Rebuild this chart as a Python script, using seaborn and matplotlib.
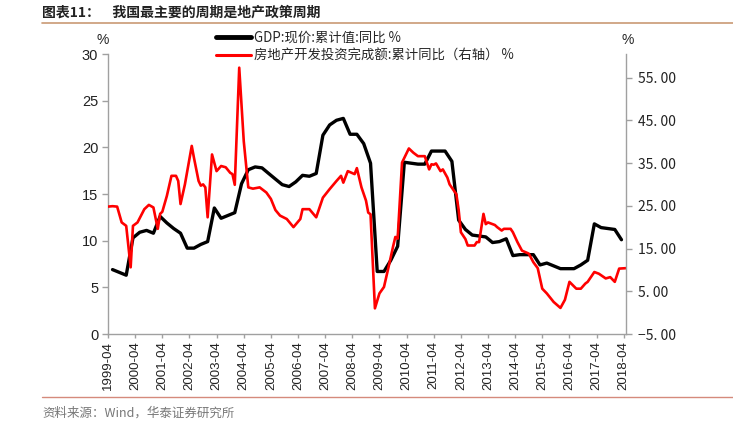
import numpy as np
import pandas as pd
import matplotlib
matplotlib.use('Agg')
import matplotlib.pyplot as plt
from matplotlib.lines import Line2D
import seaborn as sns

sns.set_style('white')
plt.rcParams['font.family'] = ['Noto Sans CJK SC', 'DejaVu Sans']
plt.rcParams['axes.unicode_minus'] = False

# GDP 现价 累计同比（季度，左轴）
gdp_quarters = ['1999-06', '1999-09', '1999-12',
                '2000-03', '2000-06', '2000-09', '2000-12',
                '2001-03', '2001-06', '2001-09', '2001-12',
                '2002-03', '2002-06', '2002-09', '2002-12',
                '2003-03', '2003-06', '2003-09', '2003-12',
                '2004-03', '2004-06', '2004-09', '2004-12',
                '2005-03', '2005-06', '2005-09', '2005-12',
                '2006-03', '2006-06', '2006-09', '2006-12',
                '2007-03', '2007-06', '2007-09', '2007-12',
                '2008-03', '2008-06', '2008-09', '2008-12',
                '2009-03', '2009-06', '2009-09', '2009-12',
                '2010-03', '2010-06', '2010-09', '2010-12',
                '2011-03', '2011-06', '2011-09', '2011-12',
                '2012-03', '2012-06', '2012-09', '2012-12',
                '2013-03', '2013-06', '2013-09', '2013-12',
                '2014-03', '2014-06', '2014-09', '2014-12',
                '2015-03', '2015-06', '2015-09', '2015-12',
                '2016-03', '2016-06', '2016-09', '2016-12',
                '2017-03', '2017-06', '2017-09', '2017-12',
                '2018-03']
gdp_yoy = [6.9, 6.6, 6.3,
           10.3, 10.9, 11.1, 10.8,
           12.6, 11.9, 11.3, 10.8,
           9.2, 9.2, 9.6, 9.9,
           13.5, 12.4, 12.7, 13.0,
           16.1, 17.6, 17.9, 17.8,
           17.2, 16.6, 16.0, 15.8,
           16.3, 17.0, 16.9, 17.2,
           21.3, 22.4, 22.9, 23.1,
           21.4, 21.4, 20.4, 18.3,
           6.7, 6.7, 7.9, 9.4,
           18.4, 18.3, 18.2, 18.2,
           19.6, 19.6, 19.6, 18.5,
           12.2, 11.2, 10.6, 10.5,
           10.4, 9.8, 9.9, 10.2,
           8.4, 8.5, 8.5, 8.5,
           7.4, 7.6, 7.3, 7.0,
           7.0, 7.0, 7.4, 7.9,
           11.8, 11.4, 11.3, 11.2,
           10.1]

# 房地产开发投资完成额 累计同比（月度，右轴）
re_months = ['1999-04', '1999-06', '1999-08', '1999-10', '1999-12',
             '2000-02', '2000-03', '2000-05', '2000-08', '2000-10', '2000-12',
             '2001-02', '2001-03', '2001-04', '2001-06', '2001-08', '2001-10', '2001-11', '2001-12',
             '2002-02', '2002-05', '2002-06', '2002-08', '2002-09', '2002-10', '2002-11', '2002-12',
             '2003-02', '2003-04', '2003-06', '2003-08', '2003-10', '2003-11', '2003-12',
             '2004-02', '2004-04', '2004-06', '2004-08', '2004-11',
             '2005-02', '2005-04', '2005-06', '2005-08', '2005-11',
             '2006-02', '2006-05', '2006-06', '2006-09', '2006-12',
             '2007-03', '2007-06', '2007-09', '2007-11', '2007-12',
             '2008-02', '2008-05', '2008-06', '2008-08', '2008-10', '2008-11', '2008-12',
             '2009-02', '2009-04', '2009-06', '2009-08', '2009-10', '2009-11', '2009-12',
             '2010-02', '2010-05', '2010-07', '2010-09', '2010-12',
             '2011-02', '2011-03', '2011-04', '2011-05', '2011-07', '2011-08', '2011-10', '2011-11',
             '2012-02', '2012-03', '2012-04', '2012-06', '2012-07', '2012-10', '2012-11', '2012-12',
             '2013-02', '2013-03', '2013-04', '2013-07', '2013-08', '2013-10', '2013-11',
             '2014-02', '2014-03', '2014-05', '2014-07', '2014-10', '2014-12',
             '2015-02', '2015-04', '2015-06', '2015-09', '2015-12',
             '2016-02', '2016-04', '2016-07', '2016-09', '2016-11', '2016-12',
             '2017-03', '2017-05', '2017-08', '2017-10', '2017-12',
             '2018-02', '2018-05']
re_yoy = [24.8, 24.9, 24.8, 21.1, 20.3,
          10.6, 20.3, 21.1, 24.2, 25.2, 24.6,
          19.6, 23.1, 23.6, 27.3, 32.0, 32.0, 30.8, 25.4,
          30.0, 39.0, 36.2, 30.8, 29.7, 30.0, 29.3, 22.3,
          37.0, 33.1, 34.3, 34.0, 32.7, 32.4, 29.9,
          57.3, 40.1, 29.3, 29.0, 29.3,
          28.1, 26.6, 24.0, 22.7, 21.9,
          20.0, 21.9, 24.2, 24.2, 22.3,
          26.9, 28.9, 30.8, 32.0, 30.4,
          33.1, 32.4, 33.8, 29.3, 26.2, 23.4, 23.0,
          1.0, 4.5, 6.0, 10.7, 15.5, 17.7, 17.3,
          35.1, 38.4, 37.4, 36.6, 36.6,
          33.5, 34.7, 34.6, 34.9, 33.1, 33.5, 31.6, 30.0,
          27.7, 24.0, 18.8, 17.2, 15.7, 15.7, 16.5, 16.5,
          23.1, 20.7, 21.1, 20.5, 20.0, 19.2, 19.6,
          19.6, 18.8, 16.5, 14.5, 13.8, 11.8,
          10.4, 5.6, 4.5, 2.5, 1.1,
          3.0, 7.2, 5.6, 5.6, 6.8, 7.2,
          9.5, 9.1, 8.0, 8.3, 7.2,
          10.3, 10.4]

left_ticks = [0, 5, 10, 15, 20, 25, 30]
right_ticks = [-5, 5, 15, 25, 35, 45, 55]
tick_years = list(range(1999, 2019))

gdp = pd.DataFrame({'date': pd.to_datetime(gdp_quarters) + pd.offsets.MonthEnd(0), 'val': gdp_yoy})
re = pd.DataFrame({'date': pd.to_datetime(re_months) + pd.offsets.MonthEnd(0), 'val': re_yoy})

fig = plt.figure(figsize=(7.33, 4.32), dpi=100)
ax = fig.add_axes([108 / 733, 1 - 334 / 432, (626 - 108) / 733, (334 - 54) / 432])
ax2 = ax.twinx()

sns.lineplot(data=gdp, x='date', y='val', ax=ax, color='black', linewidth=2.4, legend=False)
sns.lineplot(data=re, x='date', y='val', ax=ax2, color='#ff0000', linewidth=1.9, legend=False)

ax.set_xlim(pd.Timestamp('1999-04-30'), pd.Timestamp('2018-05-31'))
ax.set_ylim(0, 30)
ax2.set_ylim(-5, 60.5)

grey = '#a0a0a0'
for a in (ax, ax2):
    a.set_xlabel('')
    a.set_ylabel('')
    a.spines['top'].set_visible(False)
    for s in ('left', 'right', 'bottom'):
        a.spines[s].set_color(grey)
        a.spines[s].set_linewidth(1.0)
ax.spines['right'].set_visible(False)
ax2.spines['left'].set_visible(False)
ax2.spines['bottom'].set_visible(False)

ax.set_yticks(left_ticks)
ax.set_yticklabels([str(v) for v in left_ticks], family=['Liberation Sans', 'DejaVu Sans'], fontsize=10.5, color='#222222')
ax2.set_yticks(right_ticks)
ax2.set_yticklabels([f'{v:.2f}'.replace('.', '. ').replace('-', '−') for v in right_ticks],
                    fontsize=10, color='#222222')

xt = [pd.Timestamp(f'{y}-04-30') for y in tick_years]
ax.set_xticks(xt)
ax.set_xticklabels([f'{y}-04' for y in tick_years], rotation=90, family=['Liberation Sans', 'DejaVu Sans'],
                   fontsize=9.5, color='#222222')

ax.tick_params(axis='y', direction='out', length=4, width=1, color=grey, pad=3, left=True)
ax2.tick_params(axis='y', direction='out', length=4, width=1, color=grey, pad=5, right=True)
ax.tick_params(axis='x', direction='out', length=3, width=1, color=grey, pad=2, bottom=True)

fig.text(103 / 733, 1 - 40 / 432, '%', ha='center', va='center', fontsize=10, family=['Liberation Sans'])
fig.text(628 / 733, 1 - 40 / 432, '%', ha='center', va='center', fontsize=10, family=['Liberation Sans'])

handles = [Line2D([], [], color='black', linewidth=3.5), Line2D([], [], color='#ff0000', linewidth=2.2)]
labels = ['GDP:现价:累计值:同比 %', '房地产开发投资完成额:累计同比（右轴） %']
fig.legend(handles, labels, loc='upper left', bbox_to_anchor=(216 / 733, 1 - 31 / 432), frameon=False,
           fontsize=9.6, handlelength=2.6, handletextpad=0.25, labelspacing=0.3, borderaxespad=0, borderpad=0)

# 标题与来源
fig.text(42 / 733, 1 - 13 / 432, '图表11：    我国最主要的周期是地产政策周期', fontsize=10, fontweight='bold',
         va='center', ha='left', color='#222222')
fig.add_artist(Line2D([42 / 733, 1], [1 - 23 / 432, 1 - 23 / 432], color='#c99a74', linewidth=1.2))
fig.add_artist(Line2D([42 / 733, 1], [1 - 397 / 432, 1 - 397 / 432], color='#d58a7c', linewidth=1.0))
fig.text(42 / 733, 1 - 413 / 432, '资料来源：Wind，华泰证券研究所', fontsize=9, va='center', ha='left', color='#777777')

fig.savefig('out.png', dpi=100)
